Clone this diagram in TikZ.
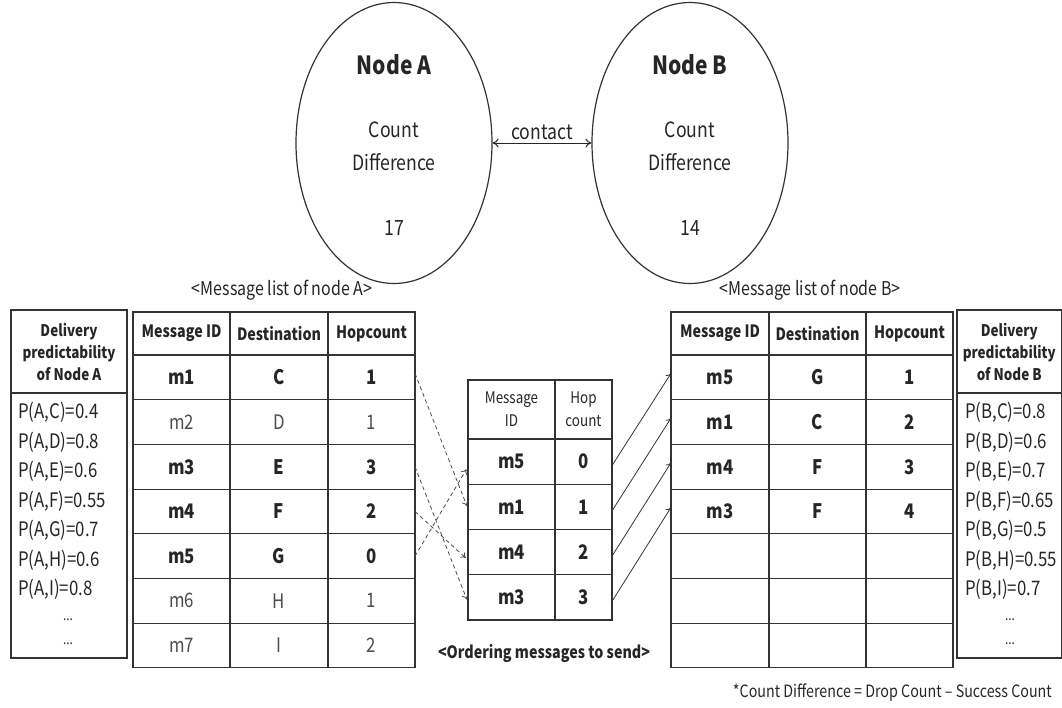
\documentclass[tikz,border=0pt]{standalone}
\usepackage{fontspec}
\setmainfont{Noto Sans CJK KR}[FakeStretch=0.84]
\usetikzlibrary{shapes.geometric,arrows.meta}
\newcommand\fs[2]{\fontsize{#1}{#2}\selectfont}
\newcommand\mkcell[7][]{\node[cellsty, #1, minimum width={(#5-#3)*1pt}, minimum height={(#6-#4)*1pt}] (#2) at ({(#3+#5)/2},{(#4+#6)/2}) {#7};}
\begin{document}
\begin{tikzpicture}[x=1pt,y=-1pt,
  cellsty/.style={draw=black!80, line width=1.1pt, inner sep=0pt, outer sep=0pt, rectangle, text=black!85, align=center},
  ell/.style={ellipse, draw=black!80, line width=1.2pt, minimum width=196pt, minimum height=281pt, inner sep=0pt},
  dasharrow/.style={draw=black!70, line width=0.8pt, dash pattern=on 4pt off 3pt, -{To[length=5pt,width=7pt]}, shorten >=3pt},
  solidarrow/.style={draw=black!80, line width=0.8pt, -{To[length=5pt,width=7pt]}},
  txt/.style={inner sep=0pt, text=black!85},
  hdr/.style={font=\fs{17}{17}\bfseries},
  dhdr/.style={font=\fs{16}{22}\bfseries}]
\useasboundingbox (0,0) rectangle (1062,707);

% ellipses
\node[ell] (A) at (394,143) {};
\node[ell] (B) at (690,143) {};
\node[txt, font=\fs{25}{25}\bfseries] (Atitle) at (394,65) {Node A};
\node[txt, align=center, font=\fs{21}{33}] (Acount) at (394,146) {Count\\Difference};
\node[txt, font=\fs{21}{21}] (Aval) at (394,228) {17};
\node[txt, font=\fs{25}{25}\bfseries] (Btitle) at (690,65) {Node B};
\node[txt, align=center, font=\fs{21}{33}] (Bcount) at (690,146) {Count\\Difference};
\node[txt, font=\fs{21}{21}] (Bval) at (690,228) {14};
\draw[line width=1pt, draw=black!85, {To[length=6pt,width=9pt]}-{To[length=6pt,width=9pt]}] (A.east) -- node[above=3pt, txt, font=\fs{21}{21}] (contact) {contact} (B.west);

% labels
\node[txt, font=\fs{19}{19}] (labA) at (282,290) {<Message list of node A>};
\node[txt, font=\fs{19}{19}] (labB) at (810,290) {<Message list of node B>};
\node[txt, font=\fs{17}{17}\bfseries] (labM) at (544,653) {<Ordering messages to send>};
\node[txt, font=\fs{17}{17}, anchor=east] (foot) at (1052,693) {*Count Difference = Drop Count – Success Count};

% delivery predictability A
\mkcell[dhdr]{dAh}{11}{310}{127}{393}{Delivery\\predictability\\of Node A}
\mkcell{dAb}{11}{393}{127}{658}{}
\node[txt, anchor=north west, align=left, font=\fs{20}{29.5}] (dAtxt) at (18,402) {P(A,C)=0.4\\P(A,D)=0.8\\P(A,E)=0.6\\P(A,F)=0.55\\P(A,G)=0.7\\P(A,H)=0.6\\P(A,I)=0.8};
\node[txt, font=\fs{14}{14}] (dAd1) at (68,620) {...};
\node[txt, font=\fs{14}{14}] (dAd2) at (68,644) {...};

% delivery predictability B
\mkcell[dhdr]{dBh}{957}{310}{1061.5}{393}{Delivery\\predictability\\of Node B}
\mkcell{dBb}{957}{393}{1061.5}{658}{}
\node[txt, anchor=north west, align=left, font=\fs{20}{29.5}] (dBtxt) at (965,402) {P(B,C)=0.8\\P(B,D)=0.6\\P(B,E)=0.7\\P(B,F)=0.65\\P(B,G)=0.5\\P(B,H)=0.55\\P(B,I)=0.7};
\node[txt, font=\fs{14}{14}] (dBd1) at (1010,620) {...};
\node[txt, font=\fs{14}{14}] (dBd2) at (1010,644) {...};

% message table A
\mkcell[hdr]{ahid}{133}{312}{230}{355}{Message ID}
\mkcell[hdr]{ahdst}{230}{312}{328}{355}{Destination}
\mkcell[hdr]{ahhop}{328}{312}{415}{355}{Hopcount}
\foreach \id/\d/\h/\w [count=\i] in {m1/C/1/\bfseries, m2/D/1/\color{black!70}, m3/E/3/\bfseries, m4/F/2/\bfseries, m5/G/0/\bfseries, m6/H/1/\color{black!70}, m7/I/2/\color{black!70}}{
  \pgfmathsetmacro\ya{355+44.7*(\i-1)}
  \pgfmathsetmacro\yb{\ya+44.7}
  \mkcell{aid\i}{133}{\ya}{230}{\yb}{\fs{20}{20}\w \id}
  \mkcell{adst\i}{230}{\ya}{328}{\yb}{\fs{20}{20}\w \d}
  \mkcell{ahop\i}{328}{\ya}{415}{\yb}{\fs{20}{20}\w \h}
}

% message table B
\mkcell[hdr]{bhid}{671}{312}{769}{355}{Message ID}
\mkcell[hdr]{bhdst}{769}{312}{866}{355}{Destination}
\mkcell[hdr]{bhhop}{866}{312}{953}{355}{Hopcount}
\foreach \id/\d/\h [count=\i] in {m5/G/1, m1/C/2, m4/F/3, m3/F/4, //, //, //}{
  \pgfmathsetmacro\ya{355+44.7*(\i-1)}
  \pgfmathsetmacro\yb{\ya+44.7}
  \mkcell{bid\i}{671}{\ya}{769}{\yb}{\fs{20}{20}\bfseries \id}
  \mkcell{bdst\i}{769}{\ya}{866}{\yb}{\fs{20}{20}\bfseries \d}
  \mkcell{bhop\i}{866}{\ya}{953}{\yb}{\fs{20}{20}\bfseries \h}
}

% middle table
\mkcell[font=\fs{16}{23}]{mhid}{468}{380}{555}{439}{Message\\ID}
\mkcell[font=\fs{16}{23}]{mhhop}{555}{380}{612}{439}{Hop\\count}
\foreach \id/\h [count=\i] in {m5/0, m1/1, m4/2, m3/3}{
  \pgfmathsetmacro\ya{439+45.25*(\i-1)}
  \pgfmathsetmacro\yb{\ya+45.25}
  \mkcell{mid\i}{468}{\ya}{555}{\yb}{\fs{20}{20}\bfseries \id}
  \mkcell{mhop\i}{555}{\ya}{612}{\yb}{\fs{20}{20}\bfseries \h}
}

% dashed arrows A -> middle
\draw[dasharrow] ([yshift=4pt]ahop1.east) -- ([yshift=-2pt]mid2.west);
\draw[dasharrow] ([yshift=0pt]ahop3.east) -- ([yshift=-5pt]mid4.west);
\draw[dasharrow] ([yshift=0pt]ahop4.east) -- ([yshift=-8pt]mid3.west);
\draw[dasharrow] ([yshift=0pt]ahop5.east) -- ([yshift=-5pt]mid1.west);

% solid arrows middle -> B
\foreach \i in {1,2,3,4}{
  \draw[solidarrow] ([yshift=-4pt]mhop\i.east) -- ([yshift=4pt]bid\i.west);
}
\end{tikzpicture}
\end{document}
